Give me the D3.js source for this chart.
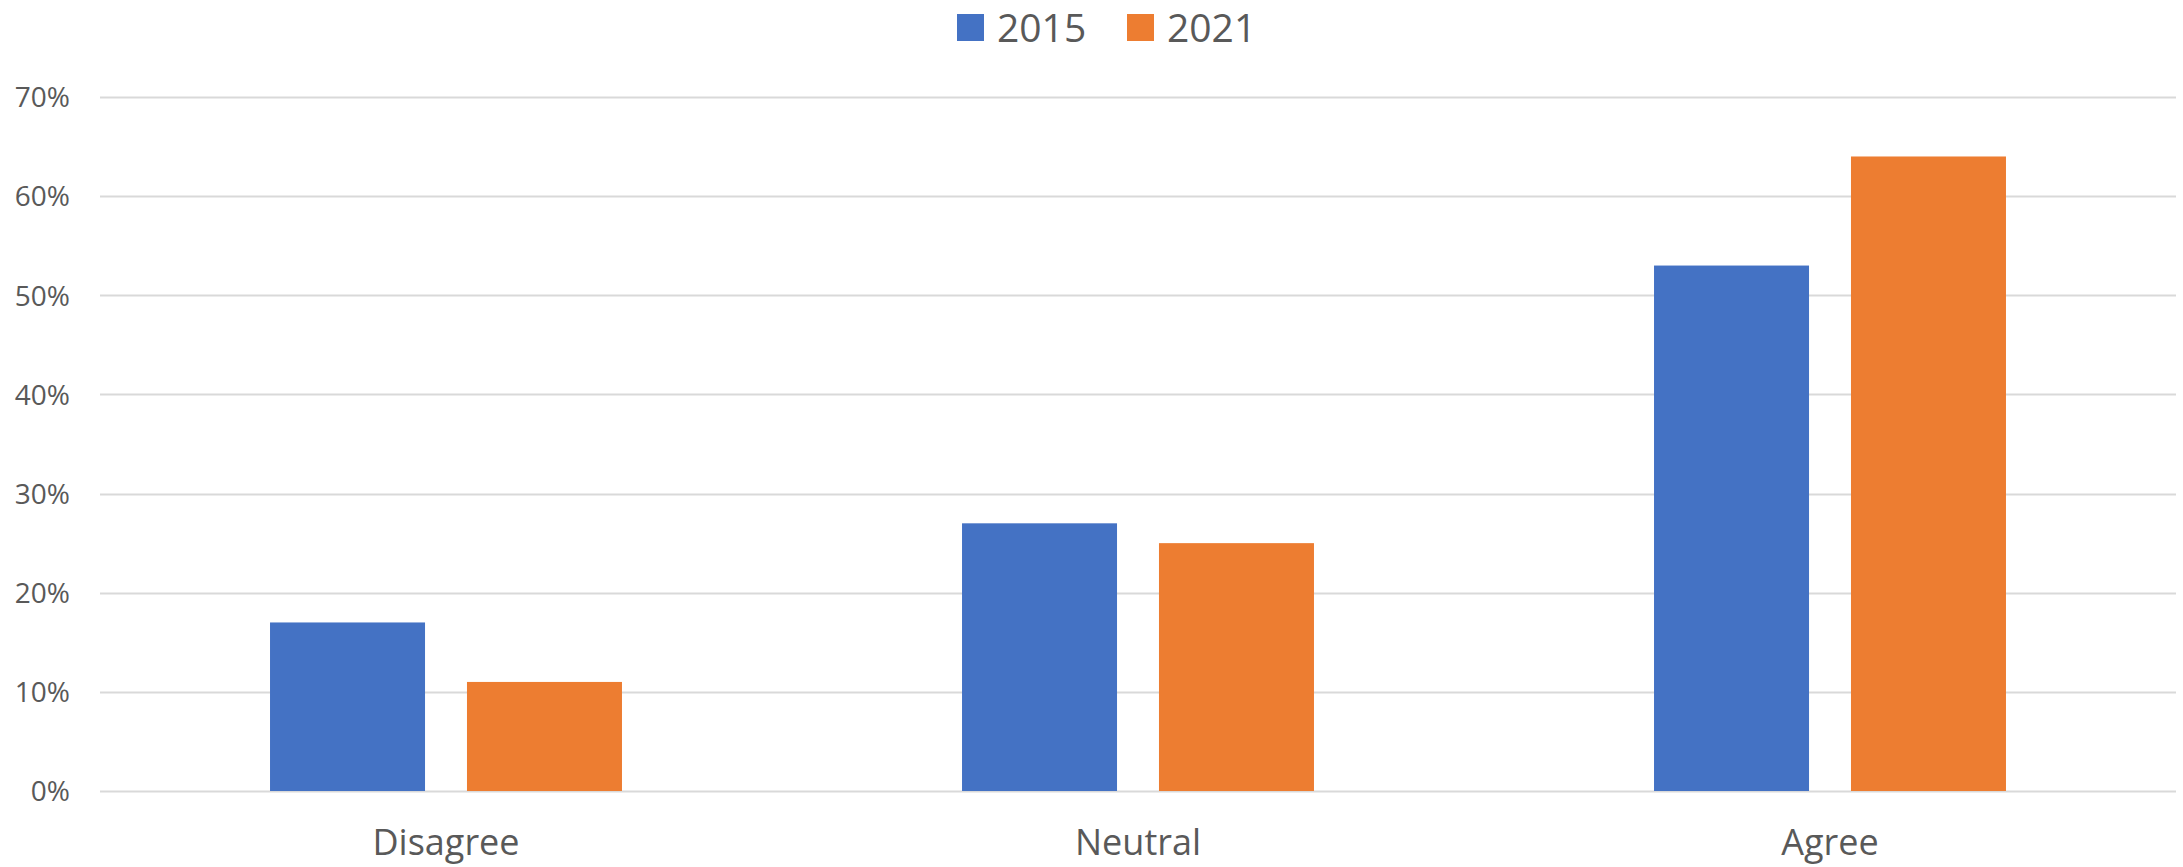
<!DOCTYPE html>
<html>
<head>
<meta charset="utf-8">
<script src="https://cdn.jsdelivr.net/npm/d3@7"></script>
<style>
  body { margin: 0; background: #fff; }
  text { font-family: "Open Sans", sans-serif; fill: #595959; }
</style>
</head>
<body>
<div id="chart"></div>
<script>
// data
var categories = ["Disagree", "Neutral", "Agree"];
var seriesNames = ["2015", "2021"];
var values2015 = [0.17, 0.27, 0.53];
var values2021 = [0.11, 0.25, 0.64];
var yTicks = [0, 0.1, 0.2, 0.3, 0.4, 0.5, 0.6, 0.7];
var colors = ["#4472C4", "#ED7D31"];

(function () {
  var W = 2183, H = 867;
  var margin = { top: 97, left: 100, right: 7, bottom: 76 },
      width = W - margin.left - margin.right,
      height = H - margin.top - margin.bottom;

  var root = d3.select("#chart").append("svg")
    .attr("width", W)
    .attr("height", H);

  var svg = root.append("g")
    .attr("transform", "translate(" + margin.left + "," + margin.top + ")");

  var yScale = d3.scaleLinear()
    .domain([0, 0.7])
    .range([height, 0]);

  var x0 = d3.scaleBand()
    .domain(categories)
    .range([0, width])
    .padding(0);

  // bars sit in the middle of each category band
  var step = x0.bandwidth();
  var x1 = d3.scaleBand()
    .domain(seriesNames)
    .range([step * 0.2457, step * 0.7543])
    .paddingInner(0.213)
    .paddingOuter(0);

  // gridlines
  svg.append("g")
    .attr("class", "grid")
    .selectAll("line")
    .data(yTicks)
    .enter().append("line")
    .attr("x1", 0)
    .attr("x2", width)
    .attr("y1", function (d) { return Math.round(yScale(d)) + 0.5; })
    .attr("y2", function (d) { return Math.round(yScale(d)) + 0.5; })
    .attr("stroke", "#D9D9D9")
    .attr("stroke-width", 2);

  // y axis labels
  var yAxis = d3.axisLeft(yScale)
    .tickValues(yTicks)
    .tickFormat(d3.format(".0%"))
    .tickSize(0)
    .tickPadding(30);
  var yg = svg.append("g").attr("class", "y-axis").call(yAxis);
  yg.select(".domain").remove();
  yg.selectAll("text")
    .style("font-size", "28px")
    .attr("fill", "#595959")
    .attr("dy", "0.35em");

  var rows = categories.map(function (c, i) {
    return { cat: c, vals: [values2015[i], values2021[i]] };
  });

  var groups = svg.selectAll(".cat")
    .data(rows)
    .enter().append("g")
    .attr("class", "cat")
    .attr("transform", function (d) { return "translate(" + x0(d.cat) + ",0)"; });

  groups.selectAll("rect")
    .data(function (d) {
      return d.vals.map(function (v, j) { return { name: seriesNames[j], v: v, j: j }; });
    })
    .enter().append("rect")
    .attr("x", function (d) { return x1(d.name); })
    .attr("width", x1.bandwidth())
    .attr("y", function (d) { return yScale(d.v); })
    .attr("height", function (d) { return height - yScale(d.v); })
    .attr("fill", function (d) { return colors[d.j]; });

  // x axis labels
  var xAxis = d3.axisBottom(x0).tickSize(0).tickPadding(38);
  var xg = svg.append("g")
    .attr("class", "x-axis")
    .attr("transform", "translate(0," + height + ")")
    .call(xAxis);
  xg.select(".domain").remove();
  xg.selectAll("text")
    .style("font-size", "36px")
    .attr("fill", "#595959");

  // legend
  var legend = root.append("g").attr("class", "legend");
  var legendX = [957, 1127];
  seriesNames.forEach(function (name, i) {
    legend.append("rect")
      .attr("x", legendX[i])
      .attr("y", 14)
      .attr("width", 27)
      .attr("height", 27)
      .attr("fill", colors[i]);
    legend.append("text")
      .attr("x", legendX[i] + 40)
      .attr("y", 42)
      .style("font-size", "39px")
      .text(name);
  });
})();
</script>
</body>
</html>
